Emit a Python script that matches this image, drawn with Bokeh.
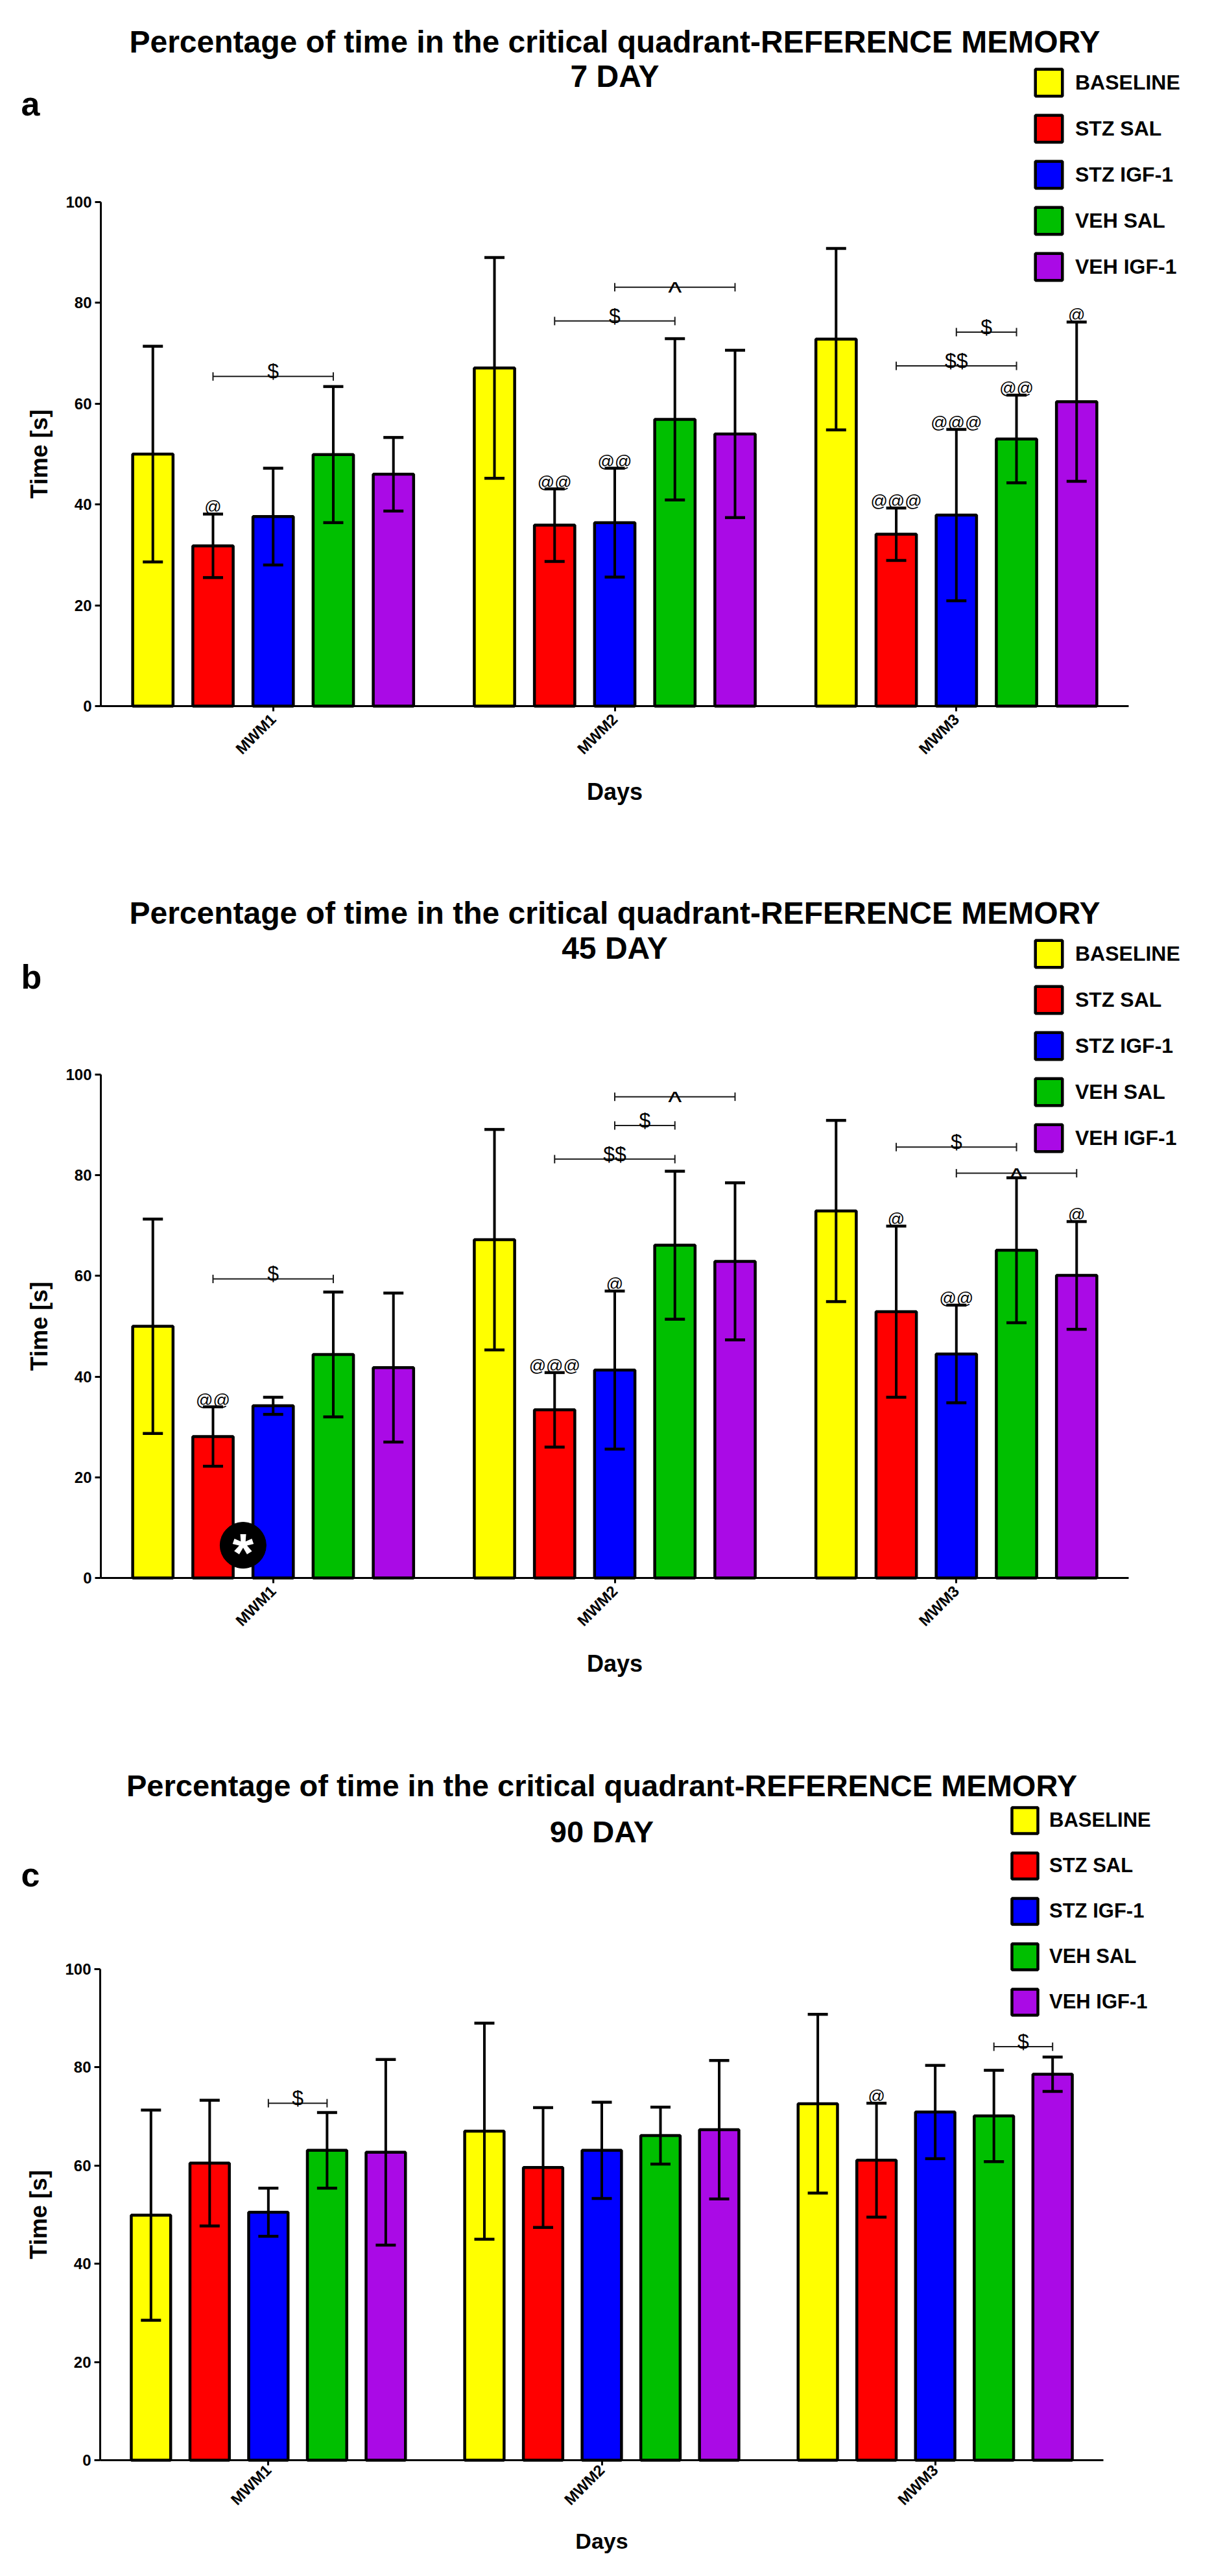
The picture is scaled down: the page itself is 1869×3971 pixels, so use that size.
import math
from bokeh.plotting import figure
from bokeh.models import Range1d, FixedTicker, Legend, LegendItem, Label, ColumnDataSource
from bokeh.layouts import column
from bokeh.embed import file_html
from bokeh.resources import INLINE
from bokeh.core.properties import value

# ---------------- data ----------------
TITLE = "Percentage of time in the critical quadrant-REFERENCE MEMORY"
DAYS = ["7 DAY", "45 DAY", "90 DAY"]
LETTERS = ["a", "b", "c"]
GROUPS = ["MWM1", "MWM2", "MWM3"]
SERIES = ["BASELINE", "STZ SAL", "STZ IGF-1", "VEH SAL", "VEH IGF-1"]
COLORS = ["#FFFF00", "#FF0000", "#0000FF", "#00BF00", "#AA0AE6"]
Y_TICKS = [0, 20, 40, 60, 80, 100]
X_LABEL = "Days"
Y_LABEL = "Time [s]"

# 7 DAY (mean, sd) per series over MWM1..MWM3
d7_baseline = [50.0, 67.1, 72.8]
d7_baseline_sd = [21.4, 21.9, 18.0]
d7_stz_sal = [31.8, 35.9, 34.1]
d7_stz_sal_sd = [6.3, 7.2, 5.2]
d7_stz_igf = [37.6, 36.4, 37.9]
d7_stz_igf_sd = [9.6, 10.8, 17.0]
d7_veh_sal = [49.9, 56.9, 53.0]
d7_veh_sal_sd = [13.5, 16.0, 8.7]
d7_veh_igf = [46.0, 54.0, 60.4]
d7_veh_igf_sd = [7.3, 16.6, 15.8]

# 45 DAY
d45_baseline = [50.0, 67.2, 72.9]
d45_baseline_sd = [21.3, 21.9, 18.0]
d45_stz_sal = [28.1, 33.4, 52.9]
d45_stz_sal_sd = [5.9, 7.4, 17.0]
d45_stz_igf = [34.2, 41.3, 44.5]
d45_stz_igf_sd = [1.7, 15.7, 9.7]
d45_veh_sal = [44.4, 66.1, 65.1]
d45_veh_sal_sd = [12.4, 14.7, 14.4]
d45_veh_igf = [41.8, 62.9, 60.1]
d45_veh_igf_sd = [14.8, 15.6, 10.7]

# 90 DAY
d90_baseline = [49.9, 67.0, 72.6]
d90_baseline_sd = [21.4, 22.0, 18.2]
d90_stz_sal = [60.5, 59.6, 61.1]
d90_stz_sal_sd = [12.8, 12.2, 11.6]
d90_stz_igf = [50.5, 63.1, 70.9]
d90_stz_igf_sd = [4.9, 9.8, 9.5]
d90_veh_sal = [63.1, 66.1, 70.1]
d90_veh_sal_sd = [7.7, 5.8, 9.3]
d90_veh_igf = [62.7, 67.3, 78.6]
d90_veh_igf_sd = [18.9, 14.1, 3.5]

# significance brackets: (group, from series, to series, y, label)
d7_brackets = [(0, 1, 3, 65.4, "$"), (1, 1, 3, 76.4, "$"), (1, 2, 4, 83.1, "^"),
               (2, 1, 3, 67.5, "$$"), (2, 2, 3, 74.2, "$")]
d45_brackets = [(0, 1, 3, 59.4, "$"), (1, 1, 3, 83.2, "$$"), (1, 2, 3, 89.9, "$"),
                (1, 2, 4, 95.6, "^"), (2, 1, 3, 85.6, "$"), (2, 2, 4, 80.4, "^")]
d90_brackets = [(0, 2, 3, 72.7, "$"), (2, 3, 4, 84.2, "$")]

# markers above error bars: (group, series, label)
d7_marks = [(0, 1, "@"), (1, 1, "@@"), (1, 2, "@@"), (2, 1, "@@@"), (2, 2, "@@@"),
            (2, 3, "@@"), (2, 4, "@")]
d45_marks = [(0, 1, "@@"), (1, 1, "@@@"), (1, 2, "@"), (2, 1, "@"), (2, 2, "@@"), (2, 4, "@")]
d90_marks = [(2, 1, "@")]

# black disc with asterisk: (group, series position, y)
d45_star = [(0, 1.5, 6.5)]

PANELS = [
    dict(means=[d7_baseline, d7_stz_sal, d7_stz_igf, d7_veh_sal, d7_veh_igf],
         sds=[d7_baseline_sd, d7_stz_sal_sd, d7_stz_igf_sd, d7_veh_sal_sd, d7_veh_igf_sd],
         brackets=d7_brackets, marks=d7_marks, star=[]),
    dict(means=[d45_baseline, d45_stz_sal, d45_stz_igf, d45_veh_sal, d45_veh_igf],
         sds=[d45_baseline_sd, d45_stz_sal_sd, d45_stz_igf_sd, d45_veh_sal_sd, d45_veh_igf_sd],
         brackets=d45_brackets, marks=d45_marks, star=d45_star),
    dict(means=[d90_baseline, d90_stz_sal, d90_stz_igf, d90_veh_sal, d90_veh_igf],
         sds=[d90_baseline_sd, d90_stz_sal_sd, d90_stz_igf_sd, d90_veh_sal_sd, d90_veh_igf_sd],
         brackets=d90_brackets, marks=d90_marks, star=[]),
]

# ---------------- layout / style ----------------
# top/left: pixel position of the axes box inside each figure; fw/fh: axes box size
LAYOUT = [
    dict(fig_h=1302, top=311, fh=777, left=155, fw=1585, t1=247, t2=194, tfs=48,
         let_y=151.5, let_x=-123, lx=1436, ltop=211, gsz=52, gsp=19.3, lfs=32, lstand=15,
         xstand=20, xlstand=8, xfs=36),
    dict(fig_h=1350, top=354, fh=776, left=155, fw=1585, t1=249, t2=195.5, tfs=48,
         let_y=150.7, let_x=-123, lx=1436, ltop=213, gsz=52, gsp=19.3, lfs=32, lstand=15,
         xstand=20, xlstand=8, xfs=36),
    dict(fig_h=1303, top=383, fh=757, left=154, fw=1547, t1=282.6, t2=211.6, tfs=47,
         let_y=146, let_x=-122, lx=1401, ltop=253, gsz=50, gsp=19.7, lfs=31, lstand=13,
         xstand=19, xlstand=3, xfs=34),
]
PAGE_W = 1853
STEP = 1 / 5.68
X0 = -2.865 * STEP
X1 = 2 + 2.865 * STEP
FONT = "Liberation Sans"


def make_panel(k):
    L = LAYOUT[k]
    D = PANELS[k]
    fw, fh = L["fw"], L["fh"]
    right = PAGE_W - L["left"] - fw
    bottom = L["fig_h"] - L["top"] - fh
    ppx = fw / (X1 - X0)      # px per x unit
    ppu = fh / 100.0          # px per y unit

    p = figure(frame_width=PAGE_W, frame_height=L["fig_h"], min_border=0,
               x_range=Range1d(X0 - L["left"] / ppx, X1 + right / ppx),
               y_range=Range1d(-bottom / ppu, 100 + L["top"] / ppu),
               output_backend="svg", toolbar_location=None)
    p.title.visible = False
    p.xgrid.visible = False
    p.ygrid.visible = False
    p.outline_line_color = None
    p.background_fill_color = "white"
    p.border_fill_color = "white"

    def bx(g, j):
        return g + (j - 2) * STEP

    bar_r = []
    for j, name in enumerate(SERIES):
        xs = [bx(g, j) for g in range(len(GROUPS))]
        m = D["means"][j]
        src = ColumnDataSource(dict(x=xs, top=m))
        r = p.vbar(x="x", top="top", bottom=0, width=0.671 * STEP, source=src,
                   fill_color=COLORS[j], line_color="black", line_width=4.5)
        bar_r.append(r)
    # error bars
    cw = 15.5 / ppx
    for j, name in enumerate(SERIES):
        xs = [bx(g, j) for g in range(len(GROUPS))]
        m = D["means"][j]
        s = D["sds"][j]
        lo = [a - b for a, b in zip(m, s)]
        hi = [a + b for a, b in zip(m, s)]
        p.segment(x0=xs, y0=lo, x1=xs, y1=hi, line_color="black", line_width=4)
        p.segment(x0=[x - cw for x in xs], y0=hi, x1=[x + cw for x in xs], y1=hi,
                  line_color="black", line_width=4.5)
        p.segment(x0=[x - cw for x in xs], y0=lo, x1=[x + cw for x in xs], y1=lo,
                  line_color="black", line_width=4.5)

    # markers
    if D["marks"]:
        mx, my, mt = [], [], []
        for g, j, t in D["marks"]:
            mx.append(bx(g, j))
            my.append(D["means"][j][g] + D["sds"][j][g] + 11 / ppu)
            mt.append(t)
        p.text(x=mx, y=my, text=mt, text_font=value(FONT),
               text_font_size="26px", text_align="center", text_baseline="alphabetic",
               text_color="black")

    # brackets
    tk = 6.5 / ppu
    hx0, hx1, hy = [], [], []
    vx, vy0, vy1 = [], [], []
    sx, sy, st = [], [], []
    cx, cy, ct = [], [], []
    for g, j1, j2, y, t in D["brackets"]:
        x_a, x_b = bx(g, j1), bx(g, j2)
        hx0.append(x_a); hx1.append(x_b); hy.append(y)
        for xx in (x_a, x_b):
            vx.append(xx); vy0.append(y - tk); vy1.append(y + tk)
        if t == "^":
            cx.append((x_a + x_b) / 2); cy.append(y - 8 / ppu); ct.append(t)
        else:
            sx.append((x_a + x_b) / 2); sy.append(y + 8.2 / ppu); st.append(t)
    if hx0:
        p.segment(x0=hx0, y0=hy, x1=hx1, y1=hy, line_color="#1a1a1a", line_width=2)
        p.segment(x0=vx, y0=vy0, x1=vx, y1=vy1, line_color="#1a1a1a", line_width=2)
    if sx:
        p.text(x=sx, y=sy, text=st, text_font=value(FONT), text_font_size="32px",
               text_align="center", text_baseline="alphabetic", text_color="black")
    if cx:
        p.text(x=cx, y=cy, text=ct, text_font=value(FONT), text_font_size="45px",
               text_align="center", text_baseline="alphabetic", text_color="black")

    # black disc with asterisk
    for g, pos, y in D["star"]:
        xx = g + (pos - 2) * STEP
        p.scatter(x=[xx], y=[y], marker="circle", size=71, fill_color="black",
                  line_color="black")
        p.text(x=[xx], y=[y - 12 / ppu], text=["*"], text_font=value(FONT),
               text_font_style="bold", text_font_size="84px", text_align="center",
               text_baseline="middle", text_color="white")

    # axes (drawn at fixed data locations)
    yax = p.yaxis[0]
    yax.fixed_location = X0
    yax.bounds = (0, 100)
    yax.ticker = FixedTicker(ticks=Y_TICKS)
    yax.minor_tick_out = 0
    yax.minor_tick_in = 0
    yax.major_tick_in = 0
    yax.major_tick_out = 9
    yax.major_tick_line_width = 3
    yax.axis_line_width = 3
    yax.axis_line_color = "black"
    yax.major_tick_line_color = "black"
    yax.major_label_standoff = 5
    yax.major_label_text_font = FONT
    yax.major_label_text_font_style = "bold"
    yax.major_label_text_font_size = "24px"
    yax.major_label_text_color = "black"
    yax.axis_label = Y_LABEL
    yax.axis_label_text_font = FONT
    yax.axis_label_text_font_style = "bold"
    yax.axis_label_text_font_size = "36px"
    yax.axis_label_text_color = "black"
    yax.axis_label_standoff = 17

    xax = p.xaxis[0]
    xax.fixed_location = 0
    xax.bounds = (X0, X1)
    xax.ticker = FixedTicker(ticks=[0, 1, 2])
    xax.major_label_overrides = {i: GROUPS[i] for i in range(len(GROUPS))}
    xax.major_label_orientation = math.pi / 4
    xax.minor_tick_out = 0
    xax.minor_tick_in = 0
    xax.major_tick_in = 0
    xax.major_tick_out = 8
    xax.major_tick_line_width = 3
    xax.axis_line_width = 3
    xax.axis_line_color = "black"
    xax.major_tick_line_color = "black"
    xax.major_label_standoff = L["xlstand"]
    xax.major_label_text_font = FONT
    xax.major_label_text_font_style = "bold"
    xax.major_label_text_font_size = "24px"
    xax.major_label_text_color = "black"
    xax.axis_label = X_LABEL
    xax.axis_label_text_font = FONT
    xax.axis_label_text_font_style = "bold"
    xax.axis_label_text_font_size = "%dpx" % L["xfs"]
    xax.axis_label_text_color = "black"
    xax.axis_label_standoff = L["xstand"]

    # titles and panel letter
    xc = (X0 + X1) / 2
    p.add_layout(Label(x=xc, y=100 + L["t1"] / ppu, text=TITLE, text_align="center",
                       text_baseline="alphabetic", text_font=FONT, text_font_style="bold",
                       text_font_size="%dpx" % L["tfs"], text_color="black"))
    p.add_layout(Label(x=xc, y=100 + L["t2"] / ppu, text=DAYS[k], text_align="center",
                       text_baseline="alphabetic", text_font=FONT, text_font_style="bold",
                       text_font_size="%dpx" % L["tfs"], text_color="black"))
    p.add_layout(Label(x=X0 + L["let_x"] / ppx, y=100 + L["let_y"] / ppu, text=LETTERS[k],
                       text_align="left", text_baseline="alphabetic", text_font=FONT,
                       text_font_style="bold", text_font_size="52px", text_color="black"))

    # legend (location in px from the figure's lower-left corner)
    gsz, gsp = L["gsz"], L["gsp"]
    lh = 5 * gsz + 4 * gsp
    ly = bottom + fh + L["ltop"] - lh
    lx = L["left"] + L["lx"]
    items = [LegendItem(label=SERIES[j], renderers=[bar_r[j]]) for j in range(len(SERIES))]
    leg = Legend(items=items, location=(lx, ly), orientation="vertical",
                 glyph_width=gsz, glyph_height=gsz, label_height=gsz, spacing=int(round(gsp)),
                 padding=0, margin=0, label_standoff=L["lstand"],
                 label_text_font=FONT, label_text_font_style="bold",
                 label_text_font_size="%dpx" % L["lfs"], label_text_color="black",
                 border_line_color=None, background_fill_alpha=0)
    p.add_layout(leg)
    return p


figs = [make_panel(k) for k in range(3)]
layout = column(*figs)
open("out.html", "w").write(file_html(layout, INLINE))
